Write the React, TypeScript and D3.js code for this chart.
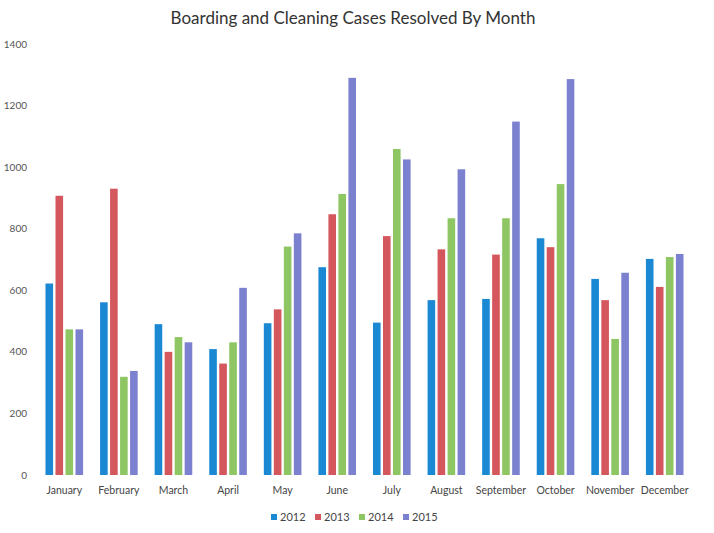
import React from "react";
import * as d3 from "d3";

const months = ["January","February","March","April","May","June","July","August","September","October","November","December"];
const years = ["2012","2013","2014","2015"];
const v2012 = [622, 561, 490, 409, 493, 675, 495, 568, 572, 769, 637, 702];
const v2013 = [907, 930, 400, 362, 538, 847, 776, 733, 716, 740, 568, 611];
const v2014 = [473, 319, 448, 431, 742, 913, 1059, 834, 834, 945, 442, 708];
const v2015 = [473, 338, 431, 608, 785, 1290, 1025, 993, 1148, 1286, 657, 718];
const yTicks = [0, 200, 400, 600, 800, 1000, 1200, 1400];
const colors = ["#1b88d3", "#d5575e", "#8dc663", "#7b80cf"];

export default function App() {
  const W = 714, H = 533;
  const series = [v2012, v2013, v2014, v2015];
  const x = d3.scaleBand().domain(months).range([37, 692]).padding(0);
  const y = d3.scaleLinear().domain([0, 1400]).range([475, 44]);
  const step = 10, bw = 7.6;
  const font = "Lato, 'Open Sans', sans-serif";
  return (
    <svg width={W} height={H} style={{ position: "absolute", left: 0, top: 0, background: "#fff" }}>
      <rect x={0} y={0} width={W} height={H} fill="#fff" />
      <text x={353} y={24} textAnchor="middle" fontFamily={font} fontSize={17} fill="#333">
        Boarding and Cleaning Cases Resolved By Month
      </text>
      {yTicks.map(t => (
        <text key={t} x={27} y={y(t) + 3.5} textAnchor="end" fontFamily={font} fontSize={10} fill="#555">{t}</text>
      ))}
      {months.map((m, i) => {
        const cx = (x(m) as number) + x.bandwidth() / 2;
        return (
          <g key={m}>
            {series.map((s, k) => {
              const bx = cx + (k - 1.5) * step - bw / 2;
              return <rect key={k} x={bx} y={y(s[i])} width={bw} height={y(0) - y(s[i])} fill={colors[k]} />;
            })}
            <text x={cx} y={494} textAnchor="middle" fontFamily={font} fontSize={10.5} fill="#444">{m}</text>
          </g>
        );
      })}
      {years.map((yr, k) => {
        const lx = 271 + k * 44;
        return (
          <g key={yr}>
            <rect x={lx} y={514} width={6} height={6} fill={colors[k]} />
            <text x={lx + 9} y={521} fontFamily={font} fontSize={11} fill="#444">{yr}</text>
          </g>
        );
      })}
    </svg>
  );
}
